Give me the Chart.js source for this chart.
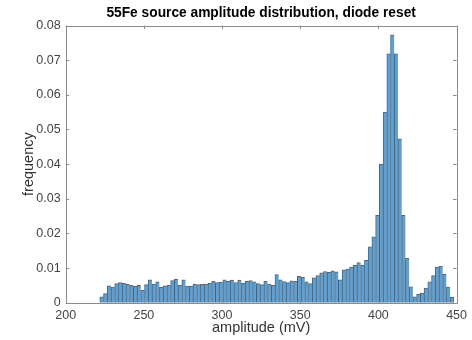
<!DOCTYPE html>
<html>
<head>
<meta charset="utf-8">
<script src="https://cdn.jsdelivr.net/npm/chart.js@4.4.1/dist/chart.umd.min.js"></script>
<style>
  html, body { margin: 0; padding: 0; background: #fff; }
  #wrap { width: 472px; height: 340px; }
</style>
</head>
<body>
<div id="wrap"><canvas id="c" width="472" height="340"></canvas></div>
<script>
// ---- data ----
const chartTitle = '55Fe source amplitude distribution, diode reset';
const xTitle = 'amplitude (mV)';
const yTitle = 'frequency';
const binStart = 221.8;   // left edge of first bin (mV)
const binWidth = 2.384;   // bin width (mV)
const frequency = [
  0.0017, 0.0026, 0.0049, 0.0045, 0.0055, 0.0058, 0.0056, 0.0053, 0.0050, 0.0047,
  0.0050, 0.0036, 0.0052, 0.0066, 0.0054, 0.0060, 0.0044, 0.0049, 0.0050, 0.0064,
  0.0068, 0.0050, 0.0066, 0.0048, 0.0048, 0.0054, 0.0052, 0.0053, 0.0054, 0.0056,
  0.0062, 0.0058, 0.0059, 0.0066, 0.0062, 0.0065, 0.0058, 0.0065, 0.0056, 0.0062,
  0.0064, 0.0060, 0.0055, 0.0052, 0.0062, 0.0054, 0.0050, 0.0081, 0.0066, 0.0061,
  0.0058, 0.0063, 0.0062, 0.0076, 0.0073, 0.0060, 0.0055, 0.0072, 0.0078, 0.0086,
  0.0090, 0.0088, 0.0092, 0.0089, 0.0066, 0.0095, 0.0096, 0.0103, 0.0108, 0.0116,
  0.0108, 0.0122, 0.0161, 0.0190, 0.0252, 0.0400, 0.0550, 0.0718, 0.0773, 0.0718,
  0.0473, 0.0252, 0.0128, 0.0046, 0.0017, 0.0024, 0.0028, 0.0042, 0.0060, 0.0078,
  0.0103, 0.0105, 0.0082, 0.0045, 0.0016
];
const binCenters = frequency.map((_, i) => binStart + binWidth * (i + 0.5));
const xTicks = [200, 250, 300, 350, 400, 450];
const yTicks = [0, 0.01, 0.02, 0.03, 0.04, 0.05, 0.06, 0.07, 0.08];

// ---- chart ----
Chart.defaults.font.family = '"Liberation Sans", Arial, Helvetica, sans-serif';
Chart.defaults.color = '#444';

const AXIS = '#8c8c8c';
const boxTicks = {
  id: 'boxTicks',
  afterDatasetsDraw(chart) {
    const { ctx, chartArea: a, scales } = chart;
    const L = 3.5;
    ctx.save();
    ctx.strokeStyle = AXIS;
    ctx.lineWidth = 1;
    ctx.beginPath();
    ctx.rect(Math.round(a.left) + 0.5, Math.round(a.top) + 0.5,
             Math.round(a.right - a.left), Math.round(a.bottom - a.top));
    xTicks.forEach(v => {
      const px = Math.round(scales.x.getPixelForValue(v)) + 0.5;
      ctx.moveTo(px, a.bottom); ctx.lineTo(px, a.bottom - L);
      ctx.moveTo(px, a.top); ctx.lineTo(px, a.top + L);
    });
    yTicks.forEach(v => {
      const py = Math.round(scales.y.getPixelForValue(v)) + 0.5;
      ctx.moveTo(a.left, py); ctx.lineTo(a.left + L, py);
      ctx.moveTo(a.right, py); ctx.lineTo(a.right - L, py);
    });
    ctx.stroke();
    ctx.restore();
  }
};

new Chart(document.getElementById('c'), {
  type: 'bar',
  data: {
    datasets: [{
      data: binCenters.map((x, i) => ({ x: x, y: frequency[i] })),
      backgroundColor: 'rgb(92,160,212)',
      borderColor: 'rgba(40,45,55,0.75)',
      borderWidth: (ctx) => ({ top: 1, left: 1, bottom: 0,
                               right: ctx.dataIndex === frequency.length - 1 ? 1 : 0 }),
      borderSkipped: false,
      barPercentage: 1,
      categoryPercentage: 1,
      grouped: false
    }]
  },
  options: {
    responsive: false,
    animation: false,
    devicePixelRatio: 1,
    layout: { padding: { top: 0, right: 12, left: 0, bottom: 0 } },
    plugins: {
      legend: { display: false },
      tooltip: { enabled: false },
      title: {
        display: true,
        fullSize: false,
        text: chartTitle,
        color: '#000',
        font: { size: 13.75, weight: 'bold' },
        padding: { top: 5, bottom: 4 }
      }
    },
    scales: {
      x: {
        type: 'linear',
        min: 200, max: 450,
        offset: false,
        afterBuildTicks: (s) => { s.ticks = xTicks.map(v => ({ value: v })); },
        afterFit: (s) => { s.height = 37.3; },
        grid: { display: false, offset: false, drawTicks: false },
        border: { display: false },
        ticks: { padding: 5, font: { size: 12.5 }, color: '#444', maxRotation: 0 },
        title: { display: true, text: xTitle, color: '#333', font: { size: 14.5 },
                 padding: { top: 0, bottom: 3 } }
      },
      y: {
        min: 0, max: 0.08,
        afterBuildTicks: (s) => { s.ticks = yTicks.map(v => ({ value: v })); },
        afterFit: (s) => { s.width = 65.7; },
        grid: { display: false, drawTicks: false },
        border: { display: false },
        ticks: { padding: 5, font: { size: 12.5 }, color: '#444',
                 callback: (v) => v === 0 ? '0' : v.toFixed(2) },
        title: { display: true, text: yTitle, color: '#333', font: { size: 14.5 },
                 padding: { top: 20, bottom: 0 } }
      }
    }
  },
  plugins: [boxTicks]
});
</script>
</body>
</html>
